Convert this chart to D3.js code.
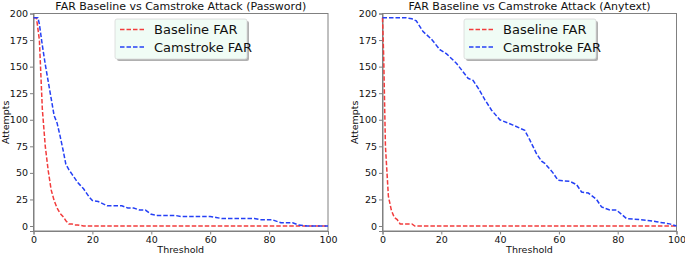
<!DOCTYPE html>
<html>
<head>
<meta charset="utf-8">
<script src="https://cdn.jsdelivr.net/npm/d3@7"></script>
<style>
  body { margin: 0; background: #fff; }
  svg { font-family: "DejaVu Sans", sans-serif; }
</style>
</head>
<body>
<svg id="chart"></svg>
<script>
let w = 685;
let h = 257;

// left panel (Password)
let pwBaseX = [0, 1, 2, 3, 4, 5, 6, 7, 8, 9, 10, 11, 12, 13, 14, 15, 17, 100];
let pwBaseY = [196, 196, 175, 110, 75, 52, 34, 24, 17, 12, 9, 5, 2, 2, 1, 1, 0, 0];
let pwCamX = [0, 1.5, 2, 3, 4, 5, 6, 7, 8, 9, 10, 11, 12, 13, 14, 15, 16, 17, 18, 19, 20, 22, 25, 30, 32, 34, 36, 38, 40, 42, 48, 50, 60, 62, 64, 75, 77, 81, 84, 88, 90, 93, 100];
let pwCamY = [196, 196, 190, 170, 152, 136, 120, 104, 97, 85, 72, 58, 53, 49, 45, 41, 38, 35, 31, 27, 24, 23, 19, 19, 17, 17, 15, 15, 11, 10, 10, 9, 9, 8, 7, 7, 6, 6, 3, 3, 1, 0, 0];

// right panel (Anytext)
let atBaseX = [0, 0.4, 1, 2, 3, 4, 5, 6, 9, 10, 11, 100];
let atBaseY = [196, 160, 75, 28, 15, 8, 6, 2, 2, 2, 0, 0];
let atCamX = [0, 8, 10, 11.5, 13.8, 16.6, 19.5, 21.8, 25.2, 29.1, 30.8, 32.5, 34.8, 37.1, 39.9, 44.4, 48.4, 50.1, 52.4, 54.1, 55.2, 58, 59.7, 63.7, 66, 67.7, 70, 72.8, 74.5, 77.3, 79.6, 83, 87.5, 91, 93.2, 97.7, 100];
let atCamY = [196, 196, 195, 193, 183, 176, 166, 162, 153, 139, 137, 130, 119, 109, 100, 95, 90, 81, 68, 61, 59, 50, 43, 42, 39, 32, 31, 25, 18, 15, 15, 7, 6, 5, 4, 2, 0];

let xTicks = [0, 20, 40, 60, 80, 100];
let yTicks = [0, 25, 50, 75, 100, 125, 150, 175, 200];

let seriesNames = ["Baseline FAR", "Camstroke FAR"];
let seriesColors = ["#f23c3c", "#2540f5"];

let panels = [
  { title: "FAR Baseline vs Camstroke Attack (Password)", left: 33.5, right: 328, legendX: 115,
    series: [[pwBaseX, pwBaseY], [pwCamX, pwCamY]] },
  { title: "FAR Baseline vs Camstroke Attack (Anytext)", left: 382.5, right: 676.5, legendX: 464,
    series: [[atBaseX, atBaseY], [atCamX, atCamY]] }
];

let plotTop = 13.5, plotBottom = 231;

let svg = d3.select("#chart").attr("width", w).attr("height", h);

panels.forEach(p => {
  let xScale = d3.scaleLinear().domain([0, 100]).range([p.left, p.right]);
  let yScale = d3.scaleLinear().domain([-4.7, 200]).range([plotBottom, plotTop]);

  let g = svg.append("g");

  // frame
  g.append("rect")
    .attr("x", p.left).attr("y", plotTop)
    .attr("width", p.right - p.left).attr("height", plotBottom - plotTop)
    .attr("fill", "none").attr("stroke", "#808080").attr("stroke-width", 1);

  let xAxis = d3.axisBottom(xScale).tickValues(xTicks).tickSize(3.5).tickPadding(2);
  let yAxis = d3.axisLeft(yScale).tickValues(yTicks).tickSize(3.5).tickPadding(2);

  let xg = g.append("g").attr("transform", `translate(0,${plotBottom})`).call(xAxis);
  let yg = g.append("g").attr("transform", `translate(${p.left},0)`).call(yAxis);
  [xg, yg].forEach(a => {
    a.select(".domain").attr("stroke", "#808080");
    a.selectAll(".tick line").attr("stroke", "#808080");
    a.selectAll(".tick text").attr("font-size", 9.5).attr("fill", "#111")
      .attr("font-family", "DejaVu Sans");
  });

  // lines
  let line = d3.line().x(d => xScale(d[0])).y(d => yScale(d[1]));
  p.series.forEach((s, i) => {
    let pts = s[0].map((x, k) => [x, s[1][k]]);
    g.append("path")
      .attr("d", line(pts))
      .attr("fill", "none")
      .attr("stroke", seriesColors[i])
      .attr("stroke-width", 1.5)
      .attr("stroke-dasharray", "4.5,2");
  });

  // title and labels
  g.append("text")
    .attr("x", (p.left + p.right) / 2).attr("y", 10)
    .attr("text-anchor", "middle").attr("font-size", 11).attr("fill", "#111")
    .text(p.title);
  g.append("text")
    .attr("x", (p.left + p.right) / 2).attr("y", 253)
    .attr("text-anchor", "middle").attr("font-size", 9.5).attr("fill", "#111")
    .text("Threshold");
  g.append("text")
    .attr("transform", `translate(${p.left - 24.5},${(plotTop + plotBottom) / 2}) rotate(-90)`)
    .attr("text-anchor", "middle").attr("font-size", 9.5).attr("fill", "#111")
    .text("Attempts");

  // legend
  let lg = g.append("g").attr("transform", `translate(${p.legendX},19)`);
  lg.append("rect").attr("x", 2).attr("y", 2).attr("width", 132).attr("height", 40)
    .attr("rx", 2).attr("fill", "#b0b0b0");
  lg.append("rect").attr("width", 132).attr("height", 40).attr("rx", 2)
    .attr("fill", "#f0fcf5").attr("stroke", "#d8d8d8").attr("stroke-width", 0.8);
  seriesNames.forEach((name, i) => {
    let yy = 10.5 + i * 17.5;
    lg.append("line").attr("x1", 5).attr("x2", 29).attr("y1", yy).attr("y2", yy)
      .attr("stroke", seriesColors[i]).attr("stroke-width", 1.5).attr("stroke-dasharray", "4.5,2");
    lg.append("text").attr("x", 39).attr("y", yy + 4.5)
      .attr("font-size", 13).attr("fill", "#111").text(name);
  });
});
</script>
</body>
</html>
